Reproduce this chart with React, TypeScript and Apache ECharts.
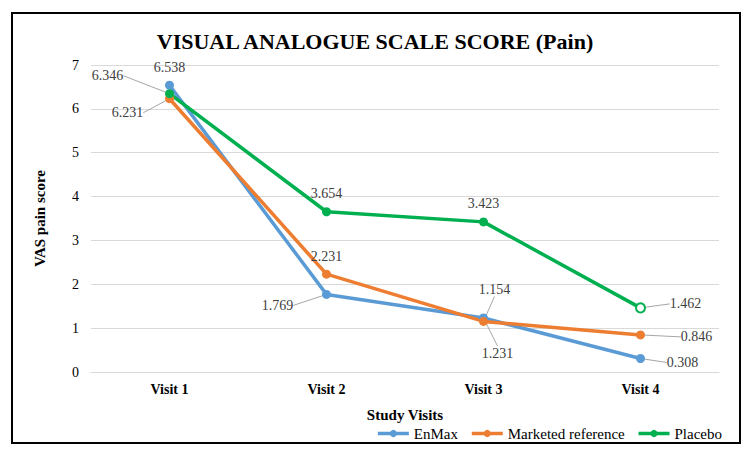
import React, { useEffect, useRef } from 'react';
import * as echarts from 'echarts';

const categories = ['Visit 1', 'Visit 2', 'Visit 3', 'Visit 4'];
const enmax = [6.538, 1.769, 1.231, 0.308];
const marketed = [6.231, 2.231, 1.154, 0.846];
const placebo = [6.346, 3.654, 3.423, 1.462];
const seriesNames = ['EnMax', 'Marketed reference', 'Placebo'];
const yMin = 0;
const yMax = 7;
const yInterval = 1;

const colors = ['#5B9BD5', '#ED7D31', '#00B050'];
const FONT = '"Liberation Serif", "Times New Roman", serif';

// label offsets relative to each point: [dx, dy, leaderLine]
const labelOffsets: [number, number, boolean][][] = [
  [[0, -18, false], [-49, 11, true], [14, 35, true], [42, 4, true]],
  [[-42, 14, true], [0, -18, false], [11, -32, true], [56, 2, true]],
  [[-62, -18, true], [0, -18, false], [0, -18, false], [45, -4, true]],
];

function buildData(values: number[], si: number, hollowLast: boolean) {
  return values.map((v, i) => {
    const item: any = {
      value: v,
      labelLine: {
        show: labelOffsets[si][i][2],
        lineStyle: { color: '#A6A6A6', width: 1 },
      },
    };
    if (hollowLast && i === values.length - 1) {
      item.itemStyle = { color: '#ffffff', borderColor: colors[si], borderWidth: 2 };
    }
    return item;
  });
}

export default function App() {
  const ref = useRef<HTMLDivElement>(null);
  useEffect(() => {
    if (!ref.current) return;
    const chart = echarts.init(ref.current, null, { renderer: 'svg' });
    const mkSeries = (name: string, values: number[], si: number, hollowLast = false) => ({
      name,
      type: 'line',
      data: buildData(values, si, hollowLast),
      symbol: 'circle',
      symbolSize: 9,
      lineStyle: { width: 3.5, color: colors[si] },
      itemStyle: { color: colors[si] },
      label: {
        show: true,
        position: 'inside',
        fontFamily: FONT,
        fontSize: 14,
        color: '#404040',
        formatter: (p: any) => p.value.toFixed(3),
      },
      labelLayout: (params: any) => {
        const o = labelOffsets[si][params.dataIndex];
        return { dx: o[0], dy: o[1] };
      },
      labelLine: { show: false, lineStyle: { color: '#A6A6A6', width: 1 } },
    });
    chart.setOption({
      animation: false,
      color: colors,
      title: {
        text: 'VISUAL ANALOGUE SCALE SCORE (Pain)',
        left: 'center',
        top: 25,
        textStyle: { fontFamily: FONT, fontSize: 22, fontWeight: 'bold', color: '#000' },
      },
      legend: {
        right: 23,
        top: 421,
        itemWidth: 31,
        itemHeight: 9,
        itemGap: 12,
        data: seriesNames,
        lineStyle: { width: 3.5 },
        itemStyle: { borderWidth: 0 },
        textStyle: { fontFamily: FONT, fontSize: 15, color: '#000' },
      },
      grid: { left: 91, right: 31, top: 65, bottom: 83 },
      xAxis: {
        type: 'category',
        data: categories,
        boundaryGap: true,
        axisLine: { show: true, lineStyle: { color: '#D9D9D9' } },
        axisTick: { show: false },
        axisLabel: { fontFamily: FONT, fontSize: 14, fontWeight: 'bold', color: '#000', margin: 10 },
        name: 'Study Visits',
        nameLocation: 'middle',
        nameGap: 35,
        nameTextStyle: { fontFamily: FONT, fontSize: 15, fontWeight: 'bold', color: '#000' },
      },
      yAxis: {
        type: 'value',
        min: yMin,
        max: yMax,
        interval: yInterval,
        axisLine: { show: false },
        axisTick: { show: false },
        splitLine: { lineStyle: { color: '#D9D9D9' } },
        axisLabel: { fontFamily: FONT, fontSize: 14, color: '#000', margin: 12 },
        name: 'VAS pain score',
        nameLocation: 'middle',
        nameGap: 44,
        nameTextStyle: { fontFamily: FONT, fontSize: 15, fontWeight: 'bold', color: '#000' },
      },
      graphic: [
        {
          type: 'rect',
          shape: { x: 12, y: 13, width: 728, height: 430 },
          style: { fill: 'none', stroke: '#000', lineWidth: 2 },
          silent: true,
        },
      ],
      series: [
        mkSeries(seriesNames[0], enmax, 0),
        mkSeries(seriesNames[1], marketed, 1),
        mkSeries(seriesNames[2], placebo, 2, true),
      ],
    });
    return () => chart.dispose();
  }, []);
  return (
    <div
      ref={ref}
      style={{ position: 'absolute', left: 0, top: 0, width: 750, height: 455, background: '#fff' }}
    />
  );
}
